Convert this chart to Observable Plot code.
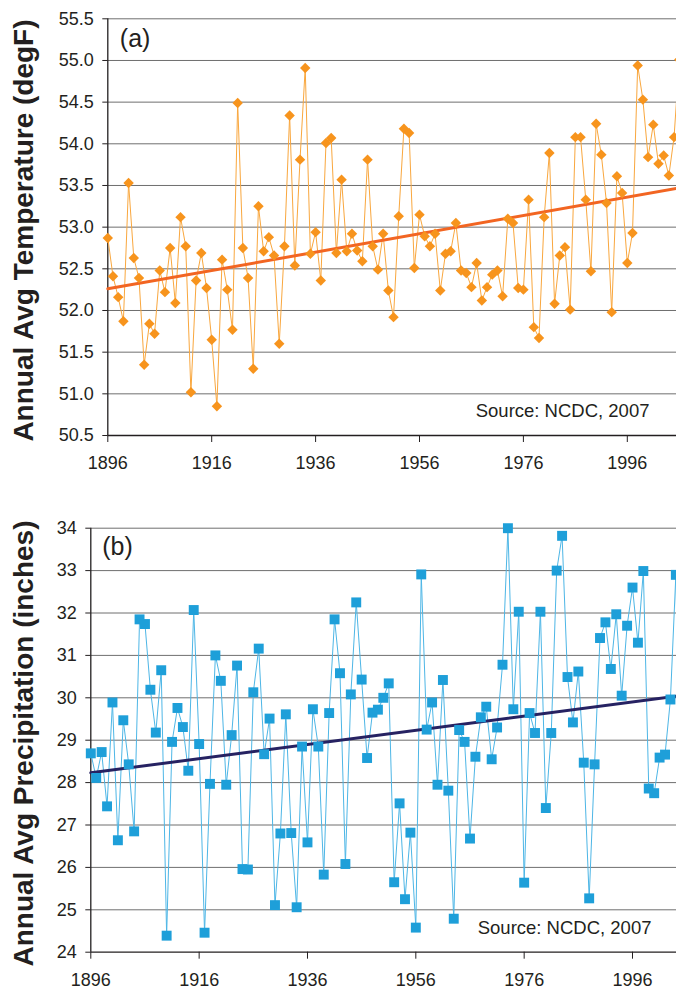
<!DOCTYPE html>
<html><head><meta charset="utf-8">
<script src="https://cdn.jsdelivr.net/npm/d3@7"></script>
<script src="https://cdn.jsdelivr.net/npm/@observablehq/plot@0.6"></script>
<style>
html,body{margin:0;padding:0;background:#fff;overflow:hidden;width:676px}
svg{display:block}
</style>
</head><body><div id="chart"></div>
<script>
// ---------- data ----------
const tempYears = d3.range(1896, 2007);
const temperature = [
  52.87,52.41,52.16,51.87,53.53,52.63,52.39,51.35,51.84,51.72,
  52.48,52.22,52.75,52.09,53.12,52.77,51.02,52.36,52.69,52.27,
  51.65,50.85,52.61,52.25,51.77,54.49,52.75,52.39,51.30,53.25,
  52.71,52.88,52.66,51.60,52.77,54.34,52.54,53.81,54.91,52.68,
  52.94,52.36,54.01,54.07,52.69,53.57,52.71,52.92,52.72,52.59,
  53.81,52.77,52.49,52.92,52.24,51.92,53.13,54.18,54.13,52.51,
  53.15,52.89,52.77,52.92,52.24,52.68,52.71,53.05,52.48,52.45,
  52.28,52.57,52.12,52.28,52.43,52.48,52.17,53.10,53.05,52.27,
  52.25,53.33,51.80,51.67,53.12,53.89,52.08,52.66,52.76,52.01,
  54.08,54.08,53.33,52.47,54.24,53.87,53.29,51.98,53.61,53.41,
  52.57,52.93,54.94,54.53,53.84,54.23,53.76,53.86,53.62,54.08,
  55.01
];
const precipYears = d3.range(1896, 2006);
const precipitation = [
  28.69,28.11,28.72,27.44,29.89,26.64,29.47,28.43,26.85,31.85,
  31.74,30.19,29.18,30.65,24.39,28.96,29.76,29.31,28.28,32.07,
  28.91,24.46,27.97,31.00,30.40,27.95,29.12,30.76,25.96,25.95,
  30.13,31.16,28.67,29.51,25.11,26.80,29.61,26.81,25.06,28.85,
  26.59,29.73,28.85,25.83,29.64,31.85,30.58,26.08,30.08,32.25,
  30.43,28.58,29.65,29.72,30.00,30.34,25.65,27.51,25.25,26.82,
  24.58,32.91,29.25,29.89,27.95,30.42,27.81,24.79,29.24,28.96,
  26.68,28.61,29.54,29.79,28.55,29.30,30.78,34.00,29.73,32.03,
  25.64,29.64,29.17,32.03,27.40,29.17,33.00,33.82,30.49,29.42,
  30.62,28.47,25.27,28.43,31.41,31.78,30.68,31.97,30.05,31.70,
  32.60,31.30,32.99,27.86,27.75,28.59,28.66,29.96,32.90,26.00
];
const trendYears = [1896, 2006];
const tempTrend = [52.26, 53.47];
const precipTrend = [28.23, 30.07];
const xTicks = [1896, 1916, 1936, 1956, 1976, 1996];
const tempTicks = [50.5, 51.0, 51.5, 52.0, 52.5, 53.0, 53.5, 54.0, 54.5, 55.0, 55.5];
const precipTicks = [24, 25, 26, 27, 28, 29, 30, 31, 32, 33, 34];
const tempTitle = "Annual Avg Temperature (degF)";
const precipTitle = "Annual Avg Precipitation (inches)";
const sourceText = "Source: NCDC, 2007";

const zip = (xs, vs) => xs.map((year, i) => ({year, value: vs[i]}));
const FONT = "'Liberation Sans', Arial, Helvetica, sans-serif";
const INK = "#231f20";

function panel(o) {
  return Plot.plot({
    width: 676, height: o.height,
    marginLeft: o.marginLeft, marginRight: 0, marginTop: o.marginTop, marginBottom: o.marginBottom,
    style: {fontFamily: FONT, fontSize: "18px", color: INK, background: "#fff", overflow: "hidden"},
    x: {domain: [1896, o.xEnd]},
    y: {domain: [o.ticks[0], o.ticks[o.ticks.length - 1]]},
    marks: [
      Plot.ruleY(o.ticks.slice(1), {stroke: "#6f6f6f", strokeWidth: 1}),
      Plot.ruleY([o.ticks[0]], {stroke: INK, strokeWidth: 1.3}),
      Plot.ruleX([1896], {stroke: INK, strokeWidth: 1.3}),
      Plot.axisX({ticks: xTicks, tickFormat: d => String(d), tickSize: 7, tickPadding: 14, label: null, fontSize: 18}),
      Plot.axisY({ticks: o.ticks, tickFormat: o.fmt, tickSize: 5, tickPadding: 9, label: null, fontSize: 18}),
      Plot.line(o.data, {x: "year", y: "value", stroke: o.lineColor, strokeWidth: 1}),
      Plot.line(o.trend, {x: "year", y: "value", stroke: o.trendColor, strokeWidth: 3}),
      Plot.dot(o.data, {x: "year", y: "value", symbol: o.symbol, r: o.r, fill: o.markColor, stroke: "none"}),
      Plot.text([o.tag], {text: d => d, frameAnchor: "top-left", textAnchor: "start", lineAnchor: "bottom", fontSize: 25, fill: INK, dx: o.tagDx, dy: o.tagDy}),
      Plot.text([sourceText], {text: d => d, frameAnchor: "bottom-right", textAnchor: "end", lineAnchor: "bottom", fontSize: 18.5, fill: INK, dx: o.srcDx, dy: o.srcDy}),
      Plot.text([o.title], {text: d => d, frameAnchor: "left", rotate: -90, textAnchor: "middle", lineAnchor: "middle", fontWeight: "bold", fontSize: 28, fill: INK, dx: o.titleDx, dy: o.titleDy})
    ]
  });
}

const panelA = panel({
  height: 500, marginLeft: 107.3, marginTop: 18.3, marginBottom: 65, xEnd: 2005.47,
  ticks: tempTicks, fmt: d => d.toFixed(1),
  data: zip(tempYears, temperature), trend: zip(trendYears, tempTrend),
  lineColor: "#f9a73e", trendColor: "#f26522", markColor: "#f7941d", symbol: "diamond2", r: 4.7,
  tag: "(a)", tagDx: 12, tagDy: 28.2, srcDx: -27, srcDy: -18.5,
  title: tempTitle, titleDx: -83.3, titleDy: 3.4
});
const panelB = panel({
  height: 489, marginLeft: 90.3, marginTop: 27.7, marginBottom: 37.3, xEnd: 2004.12,
  ticks: precipTicks, fmt: d => String(d),
  data: zip(precipYears, precipitation), trend: zip(trendYears, precipTrend),
  lineColor: "#4db6e6", trendColor: "#262262", markColor: "#1e9fd9", symbol: "square", r: 5.6,
  tag: "(b)", tagDx: 11.4, tagDy: 27.1, srcDx: -25, srcDy: -18.7,
  title: precipTitle, titleDx: -66.3, titleDy: 3.3
});
document.getElementById("chart").append(panelA, panelB);
</script>
</body></html>
